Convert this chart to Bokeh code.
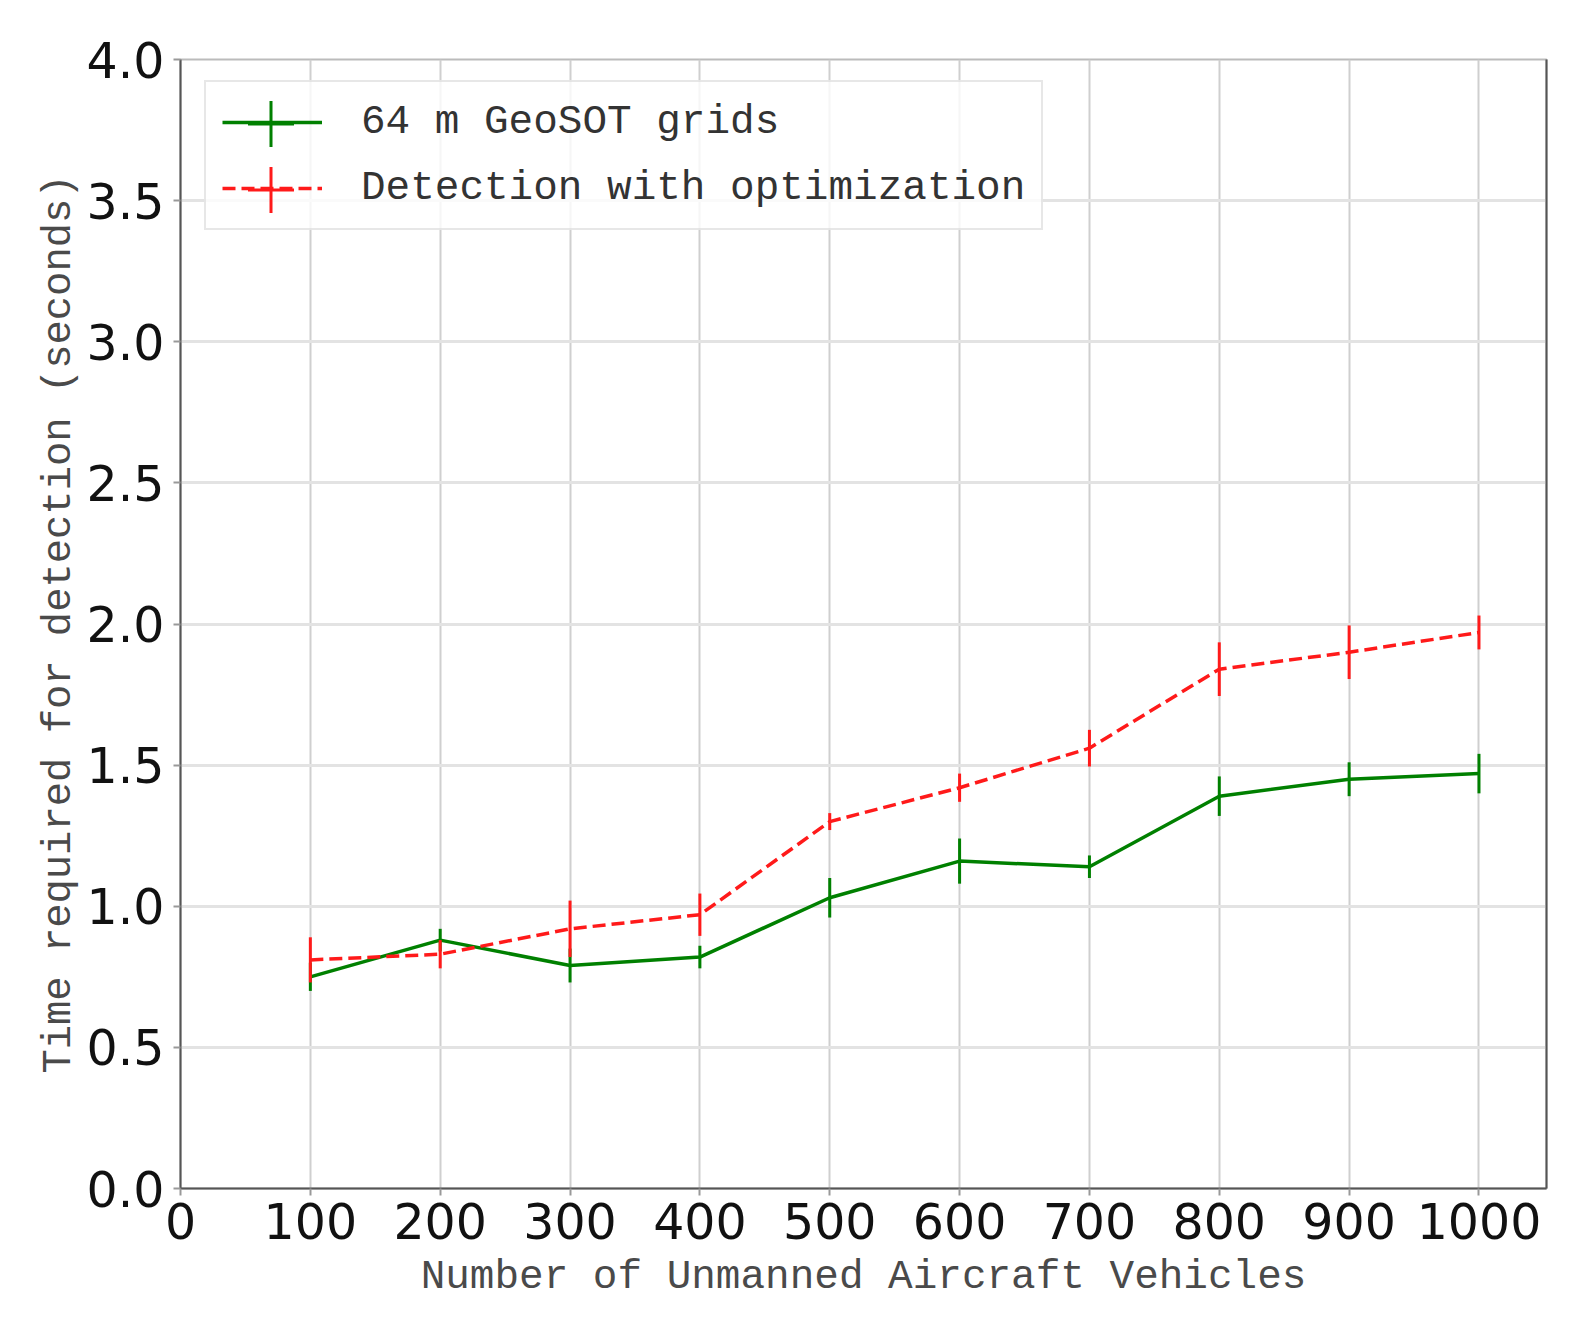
from bokeh.plotting import figure
from bokeh.models import (Range1d, FixedTicker, NumeralTickFormatter, Legend,
                          LegendItem, LinearAxis)
from bokeh.embed import file_html
from bokeh.resources import INLINE

# ---- data ----
uav_counts = [100, 200, 300, 400, 500, 600, 700, 800, 900, 1000]
grid_time = [0.75, 0.88, 0.79, 0.82, 1.03, 1.16, 1.14, 1.39, 1.45, 1.47]
grid_err = [0.05, 0.04, 0.06, 0.04, 0.07, 0.08, 0.04, 0.07, 0.06, 0.07]
opt_time = [0.81, 0.83, 0.92, 0.97, 1.30, 1.42, 1.56, 1.84, 1.90, 1.97]
opt_err = [0.08, 0.05, 0.10, 0.075, 0.03, 0.05, 0.065, 0.095, 0.095, 0.06]
x_ticks = [0, 100, 200, 300, 400, 500, 600, 700, 800, 900, 1000]
y_ticks = [0.0, 0.5, 1.0, 1.5, 2.0, 2.5, 3.0, 3.5, 4.0]
series_labels = ["64 m GeoSOT grids", "Detection with optimization"]
x_title = "Number of Unmanned Aircraft Vehicles"
y_title = "Time required for detection (seconds)"

GREEN = "#008000"
RED = "#ff1a1a"
MONO = "Liberation Mono"
FRAME_H = 1129
FRAME_TOP = 59

p = figure(frame_width=1366, frame_height=FRAME_H, output_backend="svg",
           toolbar_location=None, x_range=Range1d(0, 1052), y_range=Range1d(0, 4),
           min_border_left=180, min_border_top=FRAME_TOP, min_border_right=10,
           min_border_bottom=20, background_fill_color="white")

p.outline_line_color = "#bbbbbb"
p.outline_line_width = 2

# grids
p.xgrid.ticker = FixedTicker(ticks=x_ticks)
p.ygrid.ticker = FixedTicker(ticks=y_ticks)
p.xgrid.grid_line_color = "#cfcfcf"
p.xgrid.grid_line_width = 2
p.ygrid.grid_line_color = "#e3e3e3"
p.ygrid.grid_line_width = 3

# axes
for ax in (p.xaxis[0], p.yaxis[0]):
    ax.axis_line_color = "#555555"
    ax.axis_line_width = 2
    ax.major_tick_line_color = "#999999"
    ax.major_tick_line_width = 2
    ax.major_tick_out = 7
    ax.major_tick_in = 0
    ax.minor_tick_line_color = None
    ax.major_label_text_font = "DejaVu Sans"
    ax.major_label_text_font_size = "49px"
    ax.major_label_text_color = "#111111"
    ax.axis_label_text_font = MONO
    ax.axis_label_text_font_size = "41px"
    ax.axis_label_text_font_style = "normal"
    ax.axis_label_text_color = "#4a4a4a"

p.yaxis.axis_label_text_font_size = "40.5px"
p.xaxis.ticker = FixedTicker(ticks=x_ticks)
p.yaxis.ticker = FixedTicker(ticks=y_ticks)
p.yaxis.formatter = NumeralTickFormatter(format="0.0")
p.xaxis.axis_label = x_title
p.yaxis.axis_label = y_title
p.xaxis.major_label_standoff = 7
p.yaxis.major_label_standoff = 9
p.xaxis.axis_label_standoff = 12
p.yaxis.axis_label_standoff = 2

right_axis = LinearAxis(axis_line_color="#555555", axis_line_width=2,
                        ticker=FixedTicker(ticks=[]),
                        major_tick_line_color=None, minor_tick_line_color=None)
p.add_layout(right_axis, "right")

# error bars
grid_lo = [v - e for v, e in zip(grid_time, grid_err)]
grid_hi = [v + e for v, e in zip(grid_time, grid_err)]
opt_lo = [v - e for v, e in zip(opt_time, opt_err)]
opt_hi = [v + e for v, e in zip(opt_time, opt_err)]

g_line = p.line(uav_counts, grid_time, line_color=GREEN, line_width=3.5)
p.segment(x0=uav_counts, y0=grid_lo, x1=uav_counts, y1=grid_hi,
          line_color=GREEN, line_width=3)
g_cross = p.scatter(uav_counts, grid_time, marker="cross", size=0,
                    line_color=GREEN, line_width=3)

r_line = p.line(uav_counts, opt_time, line_color=RED, line_width=3.5,
                line_dash="13 6")
p.segment(x0=uav_counts, y0=opt_lo, x1=uav_counts, y1=opt_hi,
          line_color=RED, line_width=3)
r_cross = p.scatter(uav_counts, opt_time, marker="cross", size=0,
                    line_color=RED, line_width=3)

# legend with lines and labels
LEG_TOP = 24.5
LEG_H = 16 * 2 + 48 * 2 + 18
legend_a = Legend(items=[LegendItem(label=series_labels[0], renderers=[g_line]),
                         LegendItem(label=series_labels[1], renderers=[r_line])],
                  location=(24, FRAME_H - LEG_TOP - LEG_H), orientation="vertical",
                  glyph_width=100, glyph_height=48, label_standoff=39,
                  padding=16, spacing=18, margin=0,
                  label_text_font=MONO, label_text_font_size="41px",
                  label_text_color="#333333",
                  border_line_color="#d0d0d0", border_line_width=2,
                  background_fill_color="white", background_fill_alpha=0.8)
p.add_layout(legend_a, "center")

# error-bar crosses of the legend entries (one small legend per entry)
row_centres = [LEG_TOP + 16 + 24, LEG_TOP + 16 + 48 + 18 + 24]
for cross, centre_y in zip((g_cross, r_cross), row_centres):
    leg = Legend(items=[LegendItem(label="", renderers=[cross])],
                 location=(24 + 16 + 50 - 57.5, FRAME_H - (centre_y - 57.5) - 115),
                 glyph_width=115, glyph_height=115, label_standoff=0,
                 padding=0, spacing=0, margin=0,
                 label_text_font_size="1px",
                 border_line_color=None, background_fill_alpha=0)
    p.add_layout(leg, "center")

open("out.html", "w").write(file_html(p, INLINE))
